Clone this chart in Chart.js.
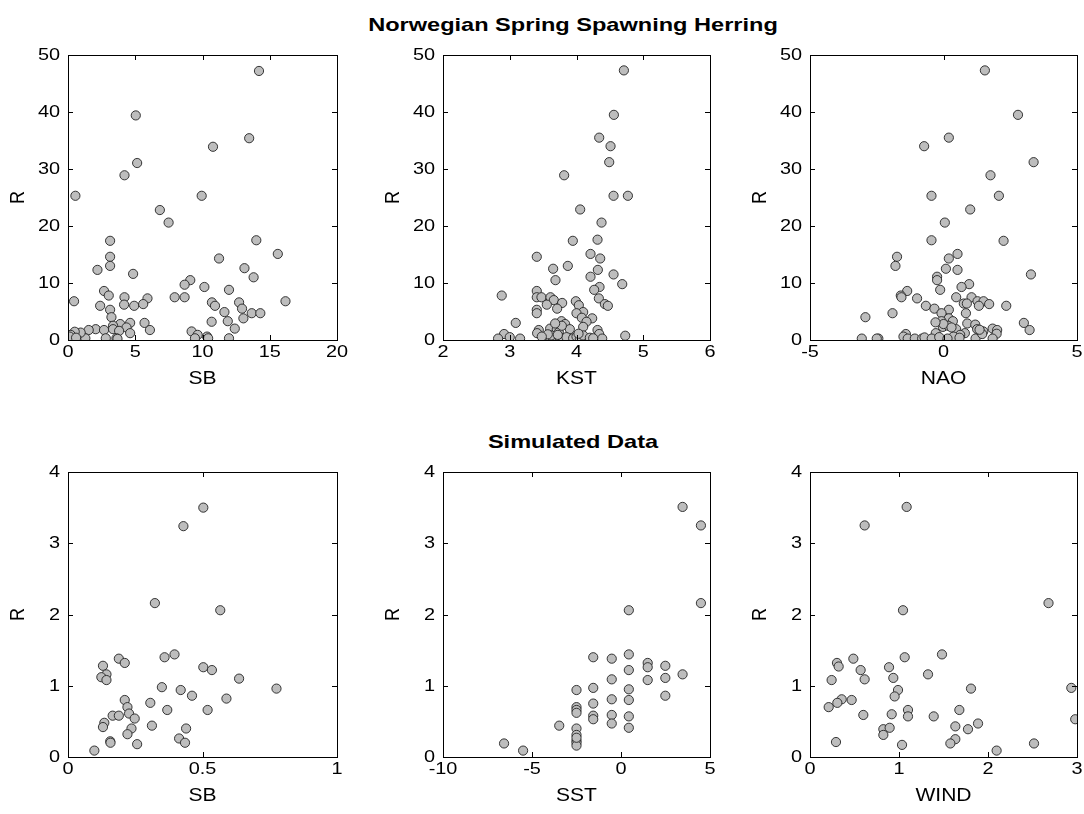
<!DOCTYPE html>
<html><head><meta charset="utf-8">
<script src="https://cdn.jsdelivr.net/npm/chart.js@4.4.1/dist/chart.umd.min.js"></script>
<style>
html,body{margin:0;padding:0;background:#fff;width:1084px;height:814px;overflow:hidden;position:relative;font-family:"Liberation Sans",Arial,Helvetica,sans-serif}
.t{position:absolute;left:0;width:1146px;text-align:center;font-weight:bold;font-size:19px;line-height:19px;color:#000;transform:scaleX(1.24);transform-origin:573px 0}
canvas{position:absolute}
</style></head><body>
<div class="t" style="top:15px">Norwegian Spring Spawning Herring</div>
<div class="t" style="top:432px">Simulated Data</div>
<canvas id="c1"></canvas><canvas id="c2"></canvas><canvas id="c3"></canvas>
<canvas id="c4"></canvas><canvas id="c5"></canvas><canvas id="c6"></canvas>
<script>
// ---- Herring: R vs SB ----
const herringSB = [14.2,5.04,13.47,10.78,5.14,4.2,0.55,9.94,6.83,7.48,3.13,14.0,15.6,3.13,11.23,3.13,2.19,13.12,4.84,13.8,9.09,8.67,10.14,2.68,3.03,4.2,5.91,7.93,8.67,11.97,0.45,16.17,10.7,10.93,12.72,12.94,2.39,4.17,4.92,5.59,3.13,3.23,11.63,13.66,14.3,13.04,11.88,10.68,5.69,4.62,3.88,3.35,4.35,6.09,12.4,2.06,1.54,2.68,3.35,3.8,4.62,9.19,9.64,10.34,10.42,9.44,11.97,2.81,3.6,3.68,1.29,0.94,0.5,0.1,0.15,0.2,0.25,0.3,0.35,0.4,0.2,0.12,0.6];
const herringR_SB = [47.2,39.4,35.4,33.9,31.05,28.9,25.3,25.3,22.8,20.6,17.4,17.5,15.1,14.6,14.3,13.0,12.3,12.6,11.6,11.0,10.5,9.7,9.3,8.6,7.8,7.5,7.3,7.5,7.5,8.8,6.8,6.8,6.6,6.0,6.6,5.5,6.0,6.2,6.0,6.3,5.3,4.0,4.9,4.7,4.7,3.8,3.3,3.2,3.0,3.0,2.8,2.5,2.2,1.75,2.0,1.9,1.75,1.75,1.9,1.6,1.2,1.5,0.9,0.6,0.3,0.3,0.3,0.3,0.3,0.2,0.3,1.3,1.45,0.2,0.5,0.3,0.7,0.2,0.5,0.3,0.9,0.6,0.4];
// ---- Herring: R vs KST ----
const herringKST = [4.71,4.56,4.34,4.51,4.49,3.815,4.555,4.77,4.055,4.375,3.945,4.315,4.21,3.405,4.355,3.87,3.65,4.32,3.685,4.555,4.21,4.685,4.345,4.265,3.405,2.88,3.405,3.475,3.61,4.335,3.99,3.66,3.785,3.555,4.035,4.425,4.47,3.71,3.405,3.405,4.1,4.0,4.08,4.235,4.15,3.09,3.775,3.83,3.9,4.1,3.605,3.435,3.41,3.705,3.735,2.915,3.0,2.825,3.155,4.315,4.34,4.385,4.73,3.5,3.55,3.6,3.65,3.7,3.75,3.8,3.85,3.62,3.72,3.95,4.0,4.05,4.1,4.2,4.25,4.03,3.78,3.68,3.57,3.48];
const herringR_KST = [47.3,39.5,35.5,34.0,31.2,28.9,25.3,25.3,22.9,20.6,17.4,17.6,15.1,14.6,14.3,13.0,12.5,12.3,10.5,11.5,11.1,9.8,9.3,8.8,8.6,7.8,7.5,7.5,7.5,7.3,6.8,7.0,6.5,6.2,6.1,6.3,6.0,5.5,5.3,4.7,4.9,4.7,3.9,3.8,3.2,3.0,3.3,2.8,1.9,2.3,2.0,1.75,1.2,1.9,1.35,1.05,0.5,0.25,0.25,1.75,1.05,0.25,0.75,0.3,0.2,0.5,0.25,0.4,0.2,0.3,0.5,0.8,0.9,0.3,0.6,0.2,0.8,0.4,0.3,1.1,2.5,2.9,1.0,0.6];
// ---- Herring: R vs NAO ----
const herringNAO = [1.55,2.79,0.2,-0.725,3.375,1.76,-0.45,2.075,1.0,0.05,-0.45,2.25,0.525,-1.74,0.2,-1.8,0.09,0.525,3.275,-0.24,-0.24,0.96,0.675,-0.125,-1.36,-1.6,-1.575,-0.99,0.475,1.05,1.275,1.5,0.76,0.875,1.325,1.71,2.35,-0.66,-0.34,0.2,-1.91,-0.075,0.84,-2.925,0.2,-0.075,0.35,0.89,1.19,3.01,-0.025,0.175,0.475,1.26,1.4,1.49,1.84,2.01,1.99,3.225,-0.29,0.8,0.625,0.375,-1.41,-1.5,-1.34,-3.06,-2.44,-2.5,-1.075,-0.8,-0.71,-0.44,-0.16,0.15,1.2,1.45,1.84,0.0,0.3,-0.3,0.6,1.35];
const herringR_NAO = [47.3,39.5,35.5,34.0,31.2,28.9,25.3,25.3,22.9,20.6,17.5,17.4,15.1,14.6,14.3,13.0,12.5,12.3,11.5,11.1,10.5,9.8,9.3,8.8,8.6,7.8,7.5,7.3,7.5,7.5,6.8,6.8,6.4,6.4,6.0,6.3,6.0,6.0,5.5,5.3,4.7,4.7,4.7,4.0,3.8,3.3,3.3,2.9,2.7,3.0,2.3,2.5,1.9,1.9,1.6,1.5,2.0,1.75,1.1,1.75,1.2,1.2,0.9,0.6,1.05,0.6,0.25,0.25,0.25,0.25,0.25,0.25,0.45,0.25,0.5,0.25,0.25,1.05,0.25,2.8,2.2,3.1,0.4,1.8];
// ---- Simulated: R vs SB ----
const simSB = [0.503,0.429,0.323,0.566,0.396,0.359,0.189,0.211,0.130,0.503,0.535,0.143,0.124,0.143,0.636,0.349,0.419,0.775,0.461,0.589,0.211,0.306,0.221,0.369,0.519,0.227,0.166,0.189,0.248,0.135,0.130,0.312,0.236,0.439,0.221,0.413,0.157,0.158,0.435,0.257,0.098];
const simR_SB = [3.50,3.24,2.16,2.06,1.44,1.40,1.38,1.32,1.28,1.26,1.22,1.16,1.12,1.08,1.10,0.98,0.94,0.96,0.86,0.82,0.80,0.76,0.70,0.66,0.66,0.61,0.58,0.58,0.54,0.48,0.42,0.44,0.40,0.40,0.32,0.26,0.22,0.20,0.20,0.18,0.09];
// ---- Simulated: R vs SST ----
const simSST = [3.46,4.49,4.49,0.44,0.44,-1.56,-0.52,1.5,1.5,2.49,0.44,3.46,2.49,-0.52,1.5,-2.5,-1.56,0.44,2.49,-0.52,0.44,-1.56,-2.5,-2.5,-2.5,-0.52,-1.56,0.44,-1.56,-0.52,-3.47,0.44,-2.5,-2.5,-2.5,-2.5,-2.5,-6.57,-5.5,-2.5];
const simR_SST = [3.51,3.25,2.16,2.06,1.44,1.40,1.38,1.32,1.26,1.28,1.22,1.16,1.11,1.09,1.08,0.94,0.97,0.95,0.86,0.81,0.80,0.75,0.70,0.66,0.62,0.59,0.58,0.57,0.53,0.47,0.44,0.41,0.40,0.31,0.23,0.20,0.16,0.19,0.09,0.27];
// ---- Simulated: R vs WIND ----
const simWIND = [1.086,0.614,2.68,1.045,1.483,1.064,0.487,0.303,0.322,0.888,0.569,1.326,0.936,0.614,0.243,1.809,2.936,0.989,0.951,0.356,0.468,0.307,0.21,1.101,1.678,0.599,0.918,1.101,1.39,2.98,1.633,1.888,0.824,0.895,1.775,0.824,1.633,0.292,1.577,1.034,2.517,2.097];
const simR_WIND = [3.51,3.25,2.16,2.06,1.44,1.40,1.38,1.32,1.27,1.26,1.22,1.16,1.11,1.09,1.08,0.96,0.97,0.94,0.85,0.81,0.80,0.76,0.70,0.66,0.66,0.59,0.60,0.57,0.57,0.53,0.43,0.47,0.39,0.41,0.39,0.31,0.25,0.21,0.19,0.17,0.19,0.09];

const FONT = '"Liberation Sans", Arial, Helvetica, sans-serif';
const SX = 1.17;                 // horizontal text stretch seen in the reference
const PAD_L = 68, PAD_T = 14, PAD_R = 14, PAD_B = 56;

function stretchText(ctx, txt, x, y, align, base, rot) {
  ctx.save();
  ctx.translate(x, y);
  ctx.scale(SX, 1);
  if (rot) ctx.rotate(rot);
  ctx.textAlign = align; ctx.textBaseline = base;
  ctx.fillText(txt, 0, 0);
  ctx.restore();
}

const boxPlugin = {
  id: 'matlabBox',
  afterDatasetsDraw(chart) {
    const {ctx, chartArea: a, scales: {x, y}} = chart;
    ctx.save();
    ctx.strokeStyle = '#000';
    ctx.lineWidth = 1;
    ctx.beginPath();
    const L = 5;
    x.ticks.forEach(t => {
      const px = Math.round(x.getPixelForValue(t.value)) + 0.5;
      ctx.moveTo(px, a.bottom); ctx.lineTo(px, a.bottom - L);
      ctx.moveTo(px, a.top); ctx.lineTo(px, a.top + L);
    });
    y.ticks.forEach(t => {
      const py = Math.round(y.getPixelForValue(t.value)) + 0.5;
      ctx.moveTo(a.left, py); ctx.lineTo(a.left + L, py);
      ctx.moveTo(a.right, py); ctx.lineTo(a.right - L, py);
    });
    ctx.stroke();
    ctx.strokeRect(Math.round(a.left) + 0.5, Math.round(a.top) + 0.5, Math.round(a.right - a.left), Math.round(a.bottom - a.top));
    // tick labels and axis titles (text stretched horizontally like the reference)
    ctx.fillStyle = '#000';
    ctx.font = '17px ' + FONT;
    x.ticks.forEach(t => stretchText(ctx, String(t.value), x.getPixelForValue(t.value), a.bottom + 12.5, 'center', 'middle'));
    y.ticks.forEach(t => stretchText(ctx, String(t.value), a.left - 8, y.getPixelForValue(t.value) + 0.5, 'right', 'middle'));
    ctx.font = '18px ' + FONT;
    stretchText(ctx, x.options.title.text, (a.left + a.right) / 2, a.bottom + 39.5, 'center', 'middle');
    stretchText(ctx, y.options.title.text, a.left - 50, (a.top + a.bottom) / 2, 'center', 'middle', -Math.PI / 2);
    ctx.restore();
  }
};

function makePanel(id, xs, ys, xr, yr, xlabel, plotLeft, plotTop, plotW, plotH) {
  const cv = document.getElementById(id);
  const W = plotW + PAD_L + PAD_R, H = plotH + PAD_T + PAD_B;
  cv.width = W; cv.height = H;
  cv.style.left = (plotLeft - PAD_L) + 'px';
  cv.style.top = (plotTop - PAD_T) + 'px';
  cv.style.width = W + 'px'; cv.style.height = H + 'px';
  const pts = xs.map((v, i) => ({x: v, y: ys[i]}));
  new Chart(cv, {
    type: 'scatter',
    data: {datasets: [{data: pts, pointRadius: 4.6, pointBorderWidth: 0.9,
      pointBackgroundColor: '#bdbdbd', pointBorderColor: '#222', pointHoverRadius: 4.6}]},
    options: {
      responsive: false, animation: false, devicePixelRatio: 1,
      layout: {padding: {top: PAD_T, right: PAD_R, left: 0, bottom: 0}},
      plugins: {legend: {display: false}, tooltip: {enabled: false}},
      events: [],
      scales: {
        x: {type: 'linear', min: xr[0], max: xr[1],
          ticks: {stepSize: xr[2], display: false, autoSkip: false},
          grid: {display: false, drawTicks: false}, border: {display: false},
          title: {display: false, text: xlabel},
          afterFit: s => { s.height = PAD_B; }
        },
        y: {type: 'linear', min: yr[0], max: yr[1],
          ticks: {stepSize: yr[2], display: false, autoSkip: false},
          grid: {display: false, drawTicks: false}, border: {display: false},
          title: {display: false, text: 'R'},
          afterFit: s => { s.width = PAD_L; }
        }
      }
    },
    plugins: [boxPlugin]
  });
}

const topY = 55, topH = 285, botY = 472, botH = 285;
makePanel('c1', herringSB, herringR_SB, [0, 20, 5], [0, 50, 10], 'SB', 68, topY, 269, topH);
makePanel('c2', herringKST, herringR_KST, [2, 6, 1], [0, 50, 10], 'KST', 443, topY, 267, topH);
makePanel('c3', herringNAO, herringR_NAO, [-5, 5, 5], [0, 50, 10], 'NAO', 810, topY, 267, topH);
makePanel('c4', simSB, simR_SB, [0, 1, 0.5], [0, 4, 1], 'SB', 68, botY, 269, botH);
makePanel('c5', simSST, simR_SST, [-10, 5, 5], [0, 4, 1], 'SST', 443, botY, 267, botH);
makePanel('c6', simWIND, simR_WIND, [0, 3, 1], [0, 4, 1], 'WIND', 810, botY, 267, botH);
</script>
</body></html>
